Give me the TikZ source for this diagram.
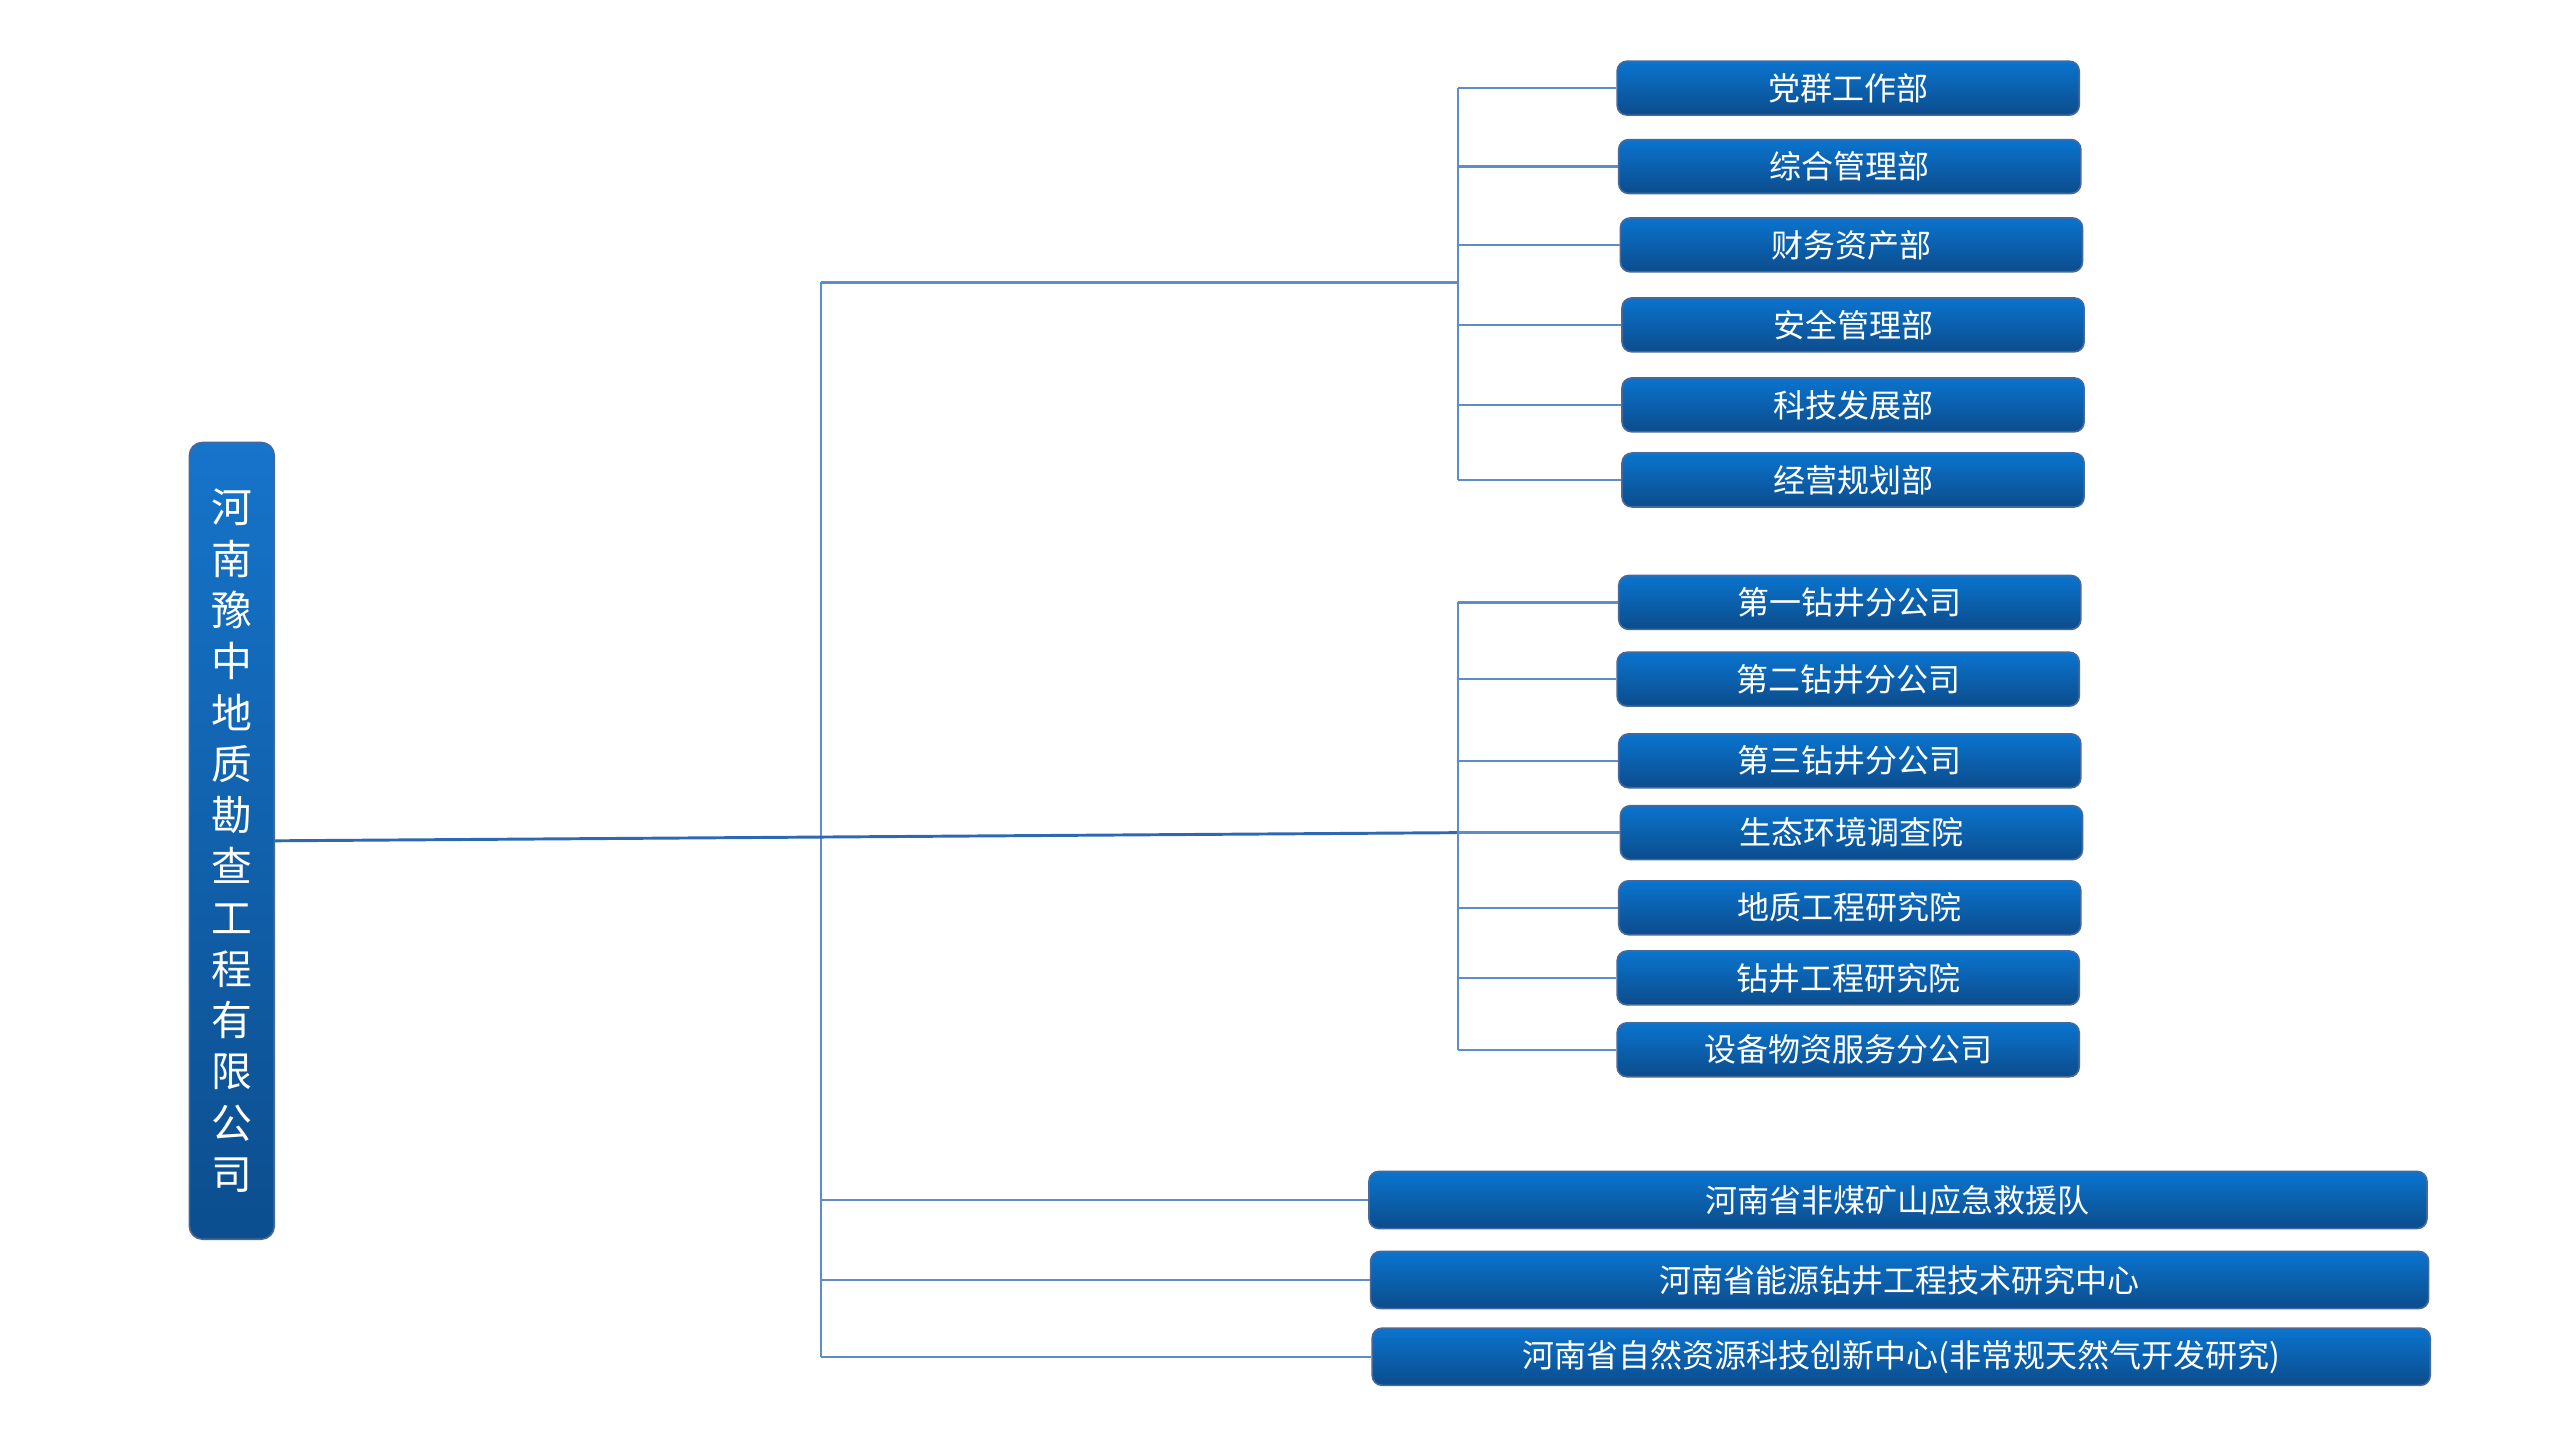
\documentclass[tikz,border=0pt]{standalone}
\usepackage{fontspec}
\setmainfont{Noto Sans CJK SC}
\definecolor{boxtop}{RGB}{10,116,206}
\definecolor{boxbot}{RGB}{12,76,140}
\definecolor{boxedge}{RGB}{70,104,156}
\definecolor{linkc}{RGB}{96,140,200}
\definecolor{mainc}{RGB}{46,104,178}
\begin{document}
\begin{tikzpicture}[x=1pt,y=-1pt,
  unitbox/.style={draw=boxedge, line width=1pt, rounded corners=6pt,
    top color=boxtop, bottom color=boxbot, text=white,
    minimum width=283pt, minimum height=33pt, inner sep=0pt, anchor=west,
    font=\fontsize{19.6}{21}\selectfont},
  widebox/.style={unitbox, minimum width=648pt, minimum height=35pt},
  titlebox/.style={draw=boxedge, line width=1pt, rounded corners=8pt,
    top color={rgb,255:red,22;green,116;blue,202}, bottom color={rgb,255:red,12;green,78;blue,142},
    text=white, minimum width=52pt, minimum height=488pt, inner sep=0pt,
    align=center, font=\fontsize{25}{31.4}\selectfont},
  link/.style={draw=linkc, line width=1.5pt},
  mainlink/.style={draw=mainc, line width=1.8pt}]
\useasboundingbox (0,0) rectangle (1568,882);
% title
\node[titlebox] (title) at (142,515) {河\\南\\豫\\中\\地\\质\\勘\\查\\工\\程\\有\\限\\公\\司};
% group 1
\node[unitbox] (p1) at (990,54) {党群工作部};
\node[unitbox] (p2) at (991,102) {综合管理部};
\node[unitbox] (p3) at (992,150) {财务资产部};
\node[unitbox] (p4) at (993,199) {安全管理部};
\node[unitbox] (p5) at (993,248) {科技发展部};
\node[unitbox] (p6) at (993,294) {经营规划部};
% group 2
\node[unitbox] (q1) at (991,369) {第一钻井分公司};
\node[unitbox] (q2) at (990,416) {第二钻井分公司};
\node[unitbox] (q3) at (991,466) {第三钻井分公司};
\node[unitbox] (q4) at (992,510) {生态环境调查院};
\node[unitbox] (q5) at (991,556) {地质工程研究院};
\node[unitbox] (q6) at (990,599) {钻井工程研究院};
\node[unitbox] (q7) at (990,643) {设备物资服务分公司};
% group 3
\node[widebox] (r1) at (838,735) {河南省非煤矿山应急救援队};
\node[widebox] (r2) at (839,784) {河南省能源钻井工程技术研究中心};
\node[widebox] (r3) at (840,831) {河南省自然资源科技创新中心(非常规天然气开发研究)};
% junctions
\coordinate (tj) at (503,173);
\coordinate (tb) at (503,831);
\coordinate (g1j) at (893,173);
\coordinate (g2j) at (893,510);
% trunk and main line
\draw[link] (tj) -- (tb);
\draw[link] (tj) -- (g1j);
\draw[mainlink] (title.east) -- (g2j);
% group 1 bus
\draw[link] (g1j |- p1.west) -- (g1j |- p6.west);
\foreach \n in {p1,p2,p3,p4,p5,p6}
  \draw[link] (g1j |- \n.west) -- (\n.west);
% group 2 bus
\draw[link] (g2j |- q1.west) -- (g2j |- q7.west);
\foreach \n in {q1,q2,q3,q4,q5,q6,q7}
  \draw[link] (g2j |- \n.west) -- (\n.west);
% group 3
\foreach \n in {r1,r2,r3}
  \draw[link] (tj |- \n.west) -- (\n.west);
\end{tikzpicture}
\end{document}
